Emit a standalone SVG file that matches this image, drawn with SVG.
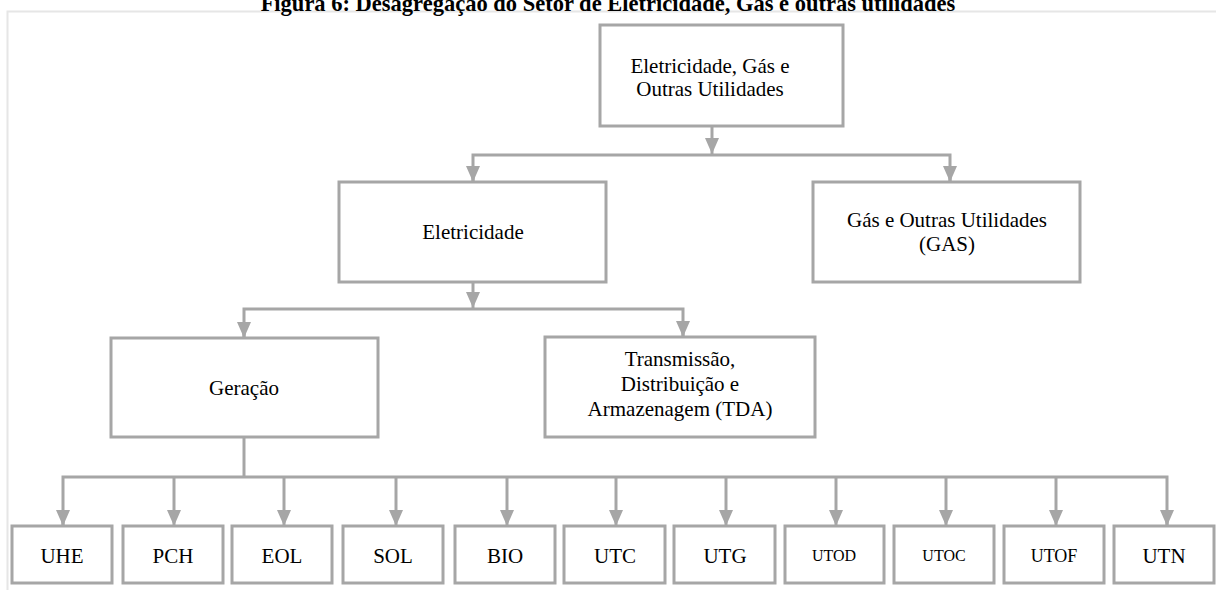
<svg xmlns="http://www.w3.org/2000/svg" width="1216" height="590" viewBox="0 0 1216 590">
<defs>
<style>
.box{fill:#fff;stroke:#a6a6a6;stroke-width:3}
.t{font-family:"Liberation Serif","Times New Roman",serif;font-size:21px;fill:#000;text-anchor:middle}
.c{fill:none;stroke:#a6a6a6;stroke-width:3}
.title{font-family:"Liberation Serif","Times New Roman",serif;font-size:22.5px;font-weight:bold;fill:#000;text-anchor:middle}
</style>
<marker id="ah" viewBox="0 0 16 14" refX="16" refY="7" markerWidth="16" markerHeight="14" markerUnits="userSpaceOnUse" orient="auto">
<path d="M0,0 L16,7 L0,14 Z" fill="#a6a6a6"/>
</marker>
</defs>
<rect width="1216" height="590" fill="#fff"/>
<path d="M7.5,590 V11.5 H1216" fill="none" stroke="#e6e6e6" stroke-width="2"/>
<text class="title" x="608" y="11">Figura 6: Desagregação do Setor de Eletricidade, Gás e outras utilidades</text>

<g id="connectors">
<path class="c" d="M712,126 V154" marker-end="url(#ah)"/>
<path class="c" d="M473,182 V155 H950 V182" />
<path class="c" d="M473,166 V182" marker-end="url(#ah)"/>
<path class="c" d="M950,166 V182" marker-end="url(#ah)"/>
<path class="c" d="M473,282 V308" marker-end="url(#ah)"/>
<path class="c" d="M244,338 V309 H683 V337"/>
<path class="c" d="M244,322 V338" marker-end="url(#ah)"/>
<path class="c" d="M683,321 V337" marker-end="url(#ah)"/>
<path class="c" d="M244,437 V477"/>
<path class="c" d="M63,526 V477 H1167 V526"/>
<path class="c" d="M63,510 V526" marker-end="url(#ah)"/>
<path class="c" d="M174,477 V526" marker-end="url(#ah)"/>
<path class="c" d="M284,477 V526" marker-end="url(#ah)"/>
<path class="c" d="M396,477 V526" marker-end="url(#ah)"/>
<path class="c" d="M507,477 V526" marker-end="url(#ah)"/>
<path class="c" d="M616,477 V526" marker-end="url(#ah)"/>
<path class="c" d="M726,477 V526" marker-end="url(#ah)"/>
<path class="c" d="M836,477 V526" marker-end="url(#ah)"/>
<path class="c" d="M946,477 V526" marker-end="url(#ah)"/>
<path class="c" d="M1056,477 V526" marker-end="url(#ah)"/>
<path class="c" d="M1167,510 V526" marker-end="url(#ah)"/>
</g>

<g id="n-root"><rect class="box" x="600" y="25" width="243" height="101"/>
<text class="t" x="710" y="73">Eletricidade, Gás e</text><text class="t" x="710" y="96">Outras Utilidades</text></g>
<g id="n-eletricidade"><rect class="box" x="339" y="182" width="267" height="100"/>
<text class="t" x="473" y="239">Eletricidade</text></g>
<g id="n-gas"><rect class="box" x="813" y="182" width="267" height="100"/>
<text class="t" x="947" y="227">Gás e Outras Utilidades</text><text class="t" x="947" y="251">(GAS)</text></g>
<g id="n-geracao"><rect class="box" x="111" y="338" width="267" height="99"/>
<text class="t" x="244" y="395">Geração</text></g>
<g id="n-tda"><rect class="box" x="545" y="337" width="270" height="100"/>
<text class="t" x="680" y="366">Transmissão,</text><text class="t" x="680" y="391">Distribuição e</text><text class="t" x="680" y="416">Armazenagem (TDA)</text></g>

<g id="n-uhe"><rect class="box" x="12" y="526" width="100" height="57"/><text class="t" x="62" y="563">UHE</text></g>
<g id="n-pch"><rect class="box" x="123" y="526" width="100" height="57"/><text class="t" x="173" y="563">PCH</text></g>
<g id="n-eol"><rect class="box" x="232" y="526" width="100" height="57"/><text class="t" x="282" y="563">EOL</text></g>
<g id="n-sol"><rect class="box" x="343" y="526" width="100" height="57"/><text class="t" x="393" y="563">SOL</text></g>
<g id="n-bio"><rect class="box" x="455" y="526" width="100" height="57"/><text class="t" x="505" y="563">BIO</text></g>
<g id="n-utc"><rect class="box" x="564" y="526" width="101" height="57"/><text class="t" x="615" y="563">UTC</text></g>
<g id="n-utg"><rect class="box" x="674" y="526" width="101" height="57"/><text class="t" x="725" y="563">UTG</text></g>
<g id="n-utod"><rect class="box" x="785" y="526" width="99" height="57"/><text class="t" x="834" y="561" style="font-size:16px">UTOD</text></g>
<g id="n-utoc"><rect class="box" x="894" y="526" width="100" height="57"/><text class="t" x="944" y="561" style="font-size:16px">UTOC</text></g>
<g id="n-utof"><rect class="box" x="1004" y="526" width="100" height="57"/><text class="t" x="1054" y="562" style="font-size:18px">UTOF</text></g>
<g id="n-utn"><rect class="box" x="1114" y="526" width="100" height="57"/><text class="t" x="1164" y="563">UTN</text></g>
</svg>
